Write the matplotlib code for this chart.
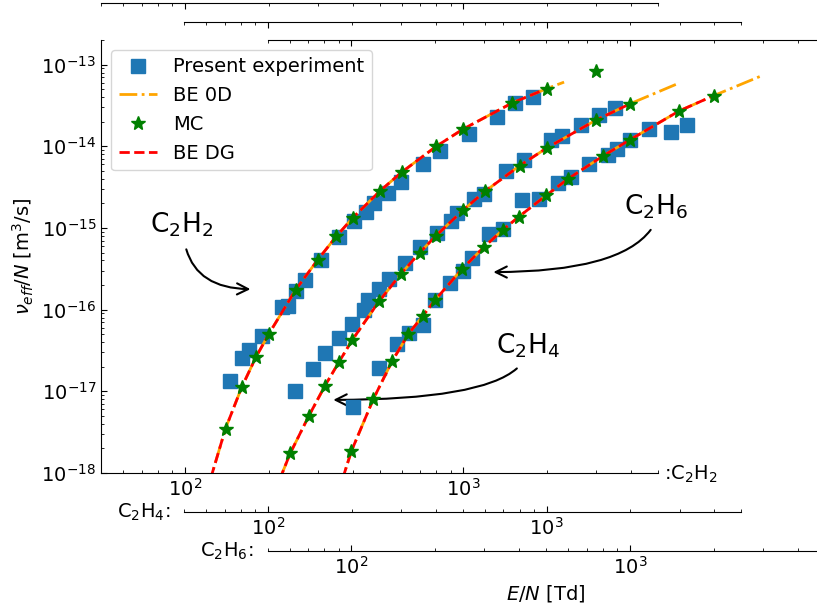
import matplotlib.pyplot as plt

plt.rcParams['font.size'] = 14

# ---- C2H2 ----
c2h2_exp_x = [145, 160, 170, 190, 224, 234, 250, 269, 309, 358, 405, 446, 478,
              536, 596, 716, 824, 1045, 1325, 1537, 1783]
c2h2_exp_y = [1.32e-17, 2.59e-17, 3.22e-17, 4.77e-17, 1.07e-16, 1.11e-16,
              1.67e-16, 2.32e-16, 4.07e-16, 7.73e-16, 1.20e-15, 1.59e-15,
              2.02e-15, 2.68e-15, 3.61e-15, 6.12e-15, 8.66e-15, 1.43e-14,
              2.29e-14, 3.40e-14, 4.02e-14]
c2h2_mc_x = [140, 160, 180, 200, 250, 300, 350, 400, 500, 600, 800, 1000,
             1500, 2000, 3000]
c2h2_mc_y = [3.5e-18, 1.12e-17, 2.62e-17, 5.04e-17, 1.75e-16, 4.07e-16,
             7.87e-16, 1.32e-15, 2.80e-15, 4.79e-15, 9.97e-15, 1.63e-14,
             3.40e-14, 5.08e-14, 8.28e-14]
c2h2_be0d_x = [120, 140, 160, 180, 200, 250, 300, 350, 400, 500, 600, 800,
               1000, 1500, 2000, 2300]
c2h2_be0d_y = [6e-19, 3.5e-18, 1.12e-17, 2.62e-17, 5.0e-17, 1.75e-16, 4.07e-16,
               7.9e-16, 1.32e-15, 2.8e-15, 4.8e-15, 1.0e-14, 1.63e-14, 3.4e-14,
               5.1e-14, 6.1e-14]
c2h2_bedg_x = [120, 140, 160, 180, 200, 250, 300, 350, 400, 500, 600, 800,
               1000, 1500, 2000]
c2h2_bedg_y = [6e-19, 3.5e-18, 1.12e-17, 2.62e-17, 5.0e-17, 1.75e-16, 4.07e-16,
               7.9e-16, 1.32e-15, 2.8e-15, 4.8e-15, 1.0e-14, 1.63e-14, 3.4e-14,
               5.1e-14]

# ---- C2H4 ----
c2h4_exp_x = [125, 145, 160, 180, 200, 220, 229, 250, 271, 310, 351, 405, 452,
              478, 548, 596, 713, 829, 1034, 1139, 1325, 1541, 1755]
c2h4_exp_y = [1.01e-17, 1.87e-17, 2.98e-17, 4.47e-17, 6.66e-17, 9.86e-17,
              1.32e-16, 1.81e-16, 2.39e-16, 3.75e-16, 5.88e-16, 8.66e-16,
              1.20e-15, 1.52e-15, 2.26e-15, 2.62e-15, 4.92e-15, 6.85e-15,
              1.21e-14, 1.32e-14, 1.84e-14, 2.44e-14, 2.95e-14]
c2h4_mc_x = [120, 140, 160, 180, 200, 250, 300, 350, 400, 500, 600, 800,
             1000, 1500, 2000]
c2h4_mc_y = [1.74e-18, 5.04e-18, 1.17e-17, 2.31e-17, 4.2e-17, 1.26e-16,
             2.75e-16, 4.97e-16, 8.02e-16, 1.64e-15, 2.80e-15, 5.78e-15,
             9.53e-15, 2.08e-14, 3.33e-14]
c2h4_be0d_x = [110, 120, 140, 160, 180, 200, 250, 300, 350, 400, 500, 600, 800,
               1000, 1500, 2000, 3000]
c2h4_be0d_y = [8.3e-19, 1.74e-18, 5.0e-18, 1.17e-17, 2.31e-17, 4.2e-17,
               1.26e-16, 2.75e-16, 4.97e-16, 8.0e-16, 1.64e-15, 2.8e-15,
               5.78e-15, 9.5e-15, 2.08e-14, 3.33e-14, 5.97e-14]
c2h4_bedg_x = [110, 120, 140, 160, 180, 200, 250, 300, 350, 400, 500, 600, 800,
               1000, 1500, 2000]
c2h4_bedg_y = [8.3e-19, 1.74e-18, 5.0e-18, 1.17e-17, 2.31e-17, 4.2e-17,
               1.26e-16, 2.75e-16, 4.97e-16, 8.0e-16, 1.64e-15, 2.8e-15,
               5.78e-15, 9.5e-15, 2.08e-14, 3.33e-14]

# ---- C2H6 ----
c2h6_exp_x = [101, 126, 146, 161, 181, 200, 226, 252, 271, 311, 350, 410, 471,
              551, 612, 712, 833, 900, 999, 1170, 1399, 1597]
c2h6_exp_y = [6.49e-18, 1.92e-17, 3.75e-17, 5.12e-17, 6.51e-17, 1.32e-16,
              2.10e-16, 3.01e-16, 4.28e-16, 8.53e-16, 9.69e-16, 2.22e-15,
              2.28e-15, 3.55e-15, 4.16e-15, 6.12e-15, 7.89e-15, 9.27e-15,
              1.21e-14, 1.63e-14, 1.48e-14, 1.84e-14]
c2h6_mc_x = [100, 120, 140, 160, 180, 200, 250, 300, 350, 400, 500, 600, 800,
             1000, 1500, 2000]
c2h6_mc_y = [1.86e-18, 8.1e-18, 2.34e-17, 5.0e-17, 8.3e-17, 1.32e-16,
             3.16e-16, 5.9e-16, 9.5e-16, 1.38e-15, 2.5e-15, 4.0e-15, 7.6e-15,
             1.2e-14, 2.7e-14, 4.17e-14]
c2h6_be0d_x = [90, 100, 120, 140, 160, 180, 200, 250, 300, 350, 400, 500, 600,
               800, 1000, 1500, 2000, 3000]
c2h6_be0d_y = [6e-19, 1.86e-18, 8.1e-18, 2.34e-17, 5.0e-17, 8.3e-17, 1.32e-16,
               3.16e-16, 5.9e-16, 9.5e-16, 1.38e-15, 2.5e-15, 4.0e-15, 7.6e-15,
               1.2e-14, 2.7e-14, 4.17e-14, 7.4e-14]
c2h6_bedg_x = [90, 100, 120, 140, 160, 180, 200, 250, 300, 350, 400, 500, 600,
               800, 1000, 1500, 2000]
c2h6_bedg_y = [6e-19, 1.86e-18, 8.1e-18, 2.34e-17, 5.0e-17, 8.3e-17, 1.32e-16,
               3.16e-16, 5.9e-16, 9.5e-16, 1.38e-15, 2.5e-15, 4.0e-15, 7.6e-15,
               1.2e-14, 2.7e-14, 4.17e-14]


# One axes per gas, shifted to the right, each with its own E/N scale

W, H = 817, 612
fig = plt.figure(figsize=(W / 100, H / 100), dpi=100)

bottom = 1 - 473 / H
height = (473 - 40) / H
width = 557 / W

ax1 = fig.add_axes([101 / W, bottom, width, height])
ax2 = fig.add_axes([184.3 / W, bottom, width, height], facecolor='none')
ax3 = fig.add_axes([267.6 / W, bottom, width, height], facecolor='none')

px = 0.72  # points per pixel at 100 dpi


def draw(ax, exp_x, exp_y, be0d_x, be0d_y, mc_x, mc_y, bedg_x, bedg_y):
    ax.plot(exp_x, exp_y, 's', color='tab:blue', ms=10,
            label='Present experiment')
    ax.plot(be0d_x, be0d_y, '-.', color='orange', lw=2, label='BE 0D')
    ax.plot(mc_x, mc_y, '*', color='green', ms=10, label='MC', zorder=4)
    ax.plot(bedg_x, bedg_y, '--', color='red', lw=2, label='BE DG')


draw(ax1, c2h2_exp_x, c2h2_exp_y, c2h2_be0d_x, c2h2_be0d_y,
     c2h2_mc_x, c2h2_mc_y, c2h2_bedg_x, c2h2_bedg_y)
draw(ax2, c2h4_exp_x, c2h4_exp_y, c2h4_be0d_x, c2h4_be0d_y,
     c2h4_mc_x, c2h4_mc_y, c2h4_bedg_x, c2h4_bedg_y)
draw(ax3, c2h6_exp_x, c2h6_exp_y, c2h6_be0d_x, c2h6_be0d_y,
     c2h6_mc_x, c2h6_mc_y, c2h6_bedg_x, c2h6_bedg_y)

for ax in (ax1, ax2, ax3):
    ax.set_xscale('log')
    ax.set_yscale('log')
    ax.set_xlim(50, 5000)
    ax.set_ylim(1e-18, 2e-13)
    ax.spines['right'].set_visible(False)
    ax.tick_params(which='both', direction='in', top=True, bottom=True,
                   right=False, labeltop=False)
    ax.tick_params(which='major', length=4.5)
    ax.tick_params(which='minor', length=2.5)

for ax in (ax2, ax3):
    ax.spines['left'].set_visible(False)
    ax.tick_params(which='both', left=False, labelleft=False)

# spread the top and bottom spines apart
ax1.spines['top'].set_position(('outward', 37 * px))
ax2.spines['top'].set_position(('outward', 18 * px))
ax2.spines['bottom'].set_position(('outward', 39 * px))
ax3.spines['bottom'].set_position(('outward', 78 * px))

ax1.set_ylabel(r'$\nu_{eff}/N$ [m$^3$/s]')
ax3.set_xlabel(r'$E/N$ [Td]')

ax1.annotate(':C$_2$H$_2$', xy=(1, 0), xycoords='axes fraction',
             xytext=(4, -1), textcoords='offset points',
             ha='left', va='center')
ax2.annotate('C$_2$H$_4$:', xy=(0, 0), xycoords='axes fraction',
             xytext=(-10, -39 * px), textcoords='offset points',
             ha='right', va='center')
ax3.annotate('C$_2$H$_6$:', xy=(0, 0), xycoords='axes fraction',
             xytext=(-10, -78 * px), textcoords='offset points',
             ha='right', va='center')

ax1.legend(loc='upper left', fontsize=14)

# gas labels with curved arrows
arrow = dict(arrowstyle='->', color='black', lw=1.5, mutation_scale=20)

ax1.text(97, 1.09e-15, 'C$_2$H$_2$', fontsize=19, ha='center', va='center')
ax1.annotate('', xy=(176, 1.78e-16), xytext=(100.6, 5.9e-16),
             arrowprops=dict(arrow, connectionstyle='angle3,angleA=-76,angleB=0'))

ax3.text(1236, 1.82e-15, 'C$_2$H$_6$', fontsize=19, ha='center', va='center')
ax3.annotate('', xy=(316, 2.88e-16), xytext=(1203, 1.01e-15),
             arrowprops=dict(arrow, connectionstyle='angle3,angleA=56,angleB=0'))

ax2.text(855, 3.6e-17, 'C$_2$H$_4$', fontsize=19, ha='center', va='center')
ax2.annotate('', xy=(167.5, 7.85e-18), xytext=(795, 2.01e-17),
             arrowprops=dict(arrow, connectionstyle='angle3,angleA=45,angleB=0'))

plt.savefig('out.png', dpi=100)
